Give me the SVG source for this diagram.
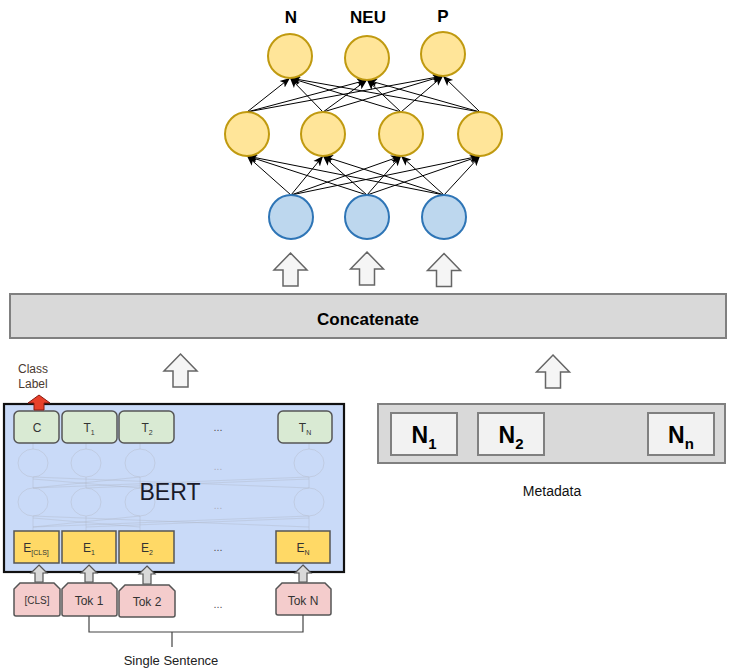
<svg xmlns="http://www.w3.org/2000/svg" width="729" height="672" viewBox="0 0 729 672">
<defs>
<marker id="ah" markerUnits="userSpaceOnUse" markerWidth="10" markerHeight="10" refX="10" refY="5" orient="auto" viewBox="0 0 10 10">
<path d="M0,0.8 L10,5 L0,9.2 L2.5,5 Z" fill="#000"/>
</marker>
</defs>
<style>
.out{fill:#ffe599;stroke:#c09a10;stroke-width:2}
.inp{fill:#bdd7ee;stroke:#2e75b6;stroke-width:2}
.edge{stroke:#000;stroke-width:1;fill:none;marker-end:url(#ah)}
.lbl{font-family:"Liberation Sans",Arial,sans-serif;font-weight:bold;font-size:17px;fill:#000;text-anchor:middle}
.barrow{fill:#f5f5f5;stroke:#666;stroke-width:1.5}
.sarrow{fill:#d9d9d9;stroke:#555;stroke-width:1.2}
.gbox{fill:#d9d9d9;stroke:#808080;stroke-width:2}
.nbox{fill:#f2f2f2;stroke:#808080;stroke-width:2}
.nt{font-family:"Liberation Sans",Arial,sans-serif;font-weight:bold;font-size:23px;fill:#000;text-anchor:middle}
.t{font-family:"Liberation Sans",Arial,sans-serif;fill:#333;text-anchor:middle}
.tbox{fill:#d9ead3;stroke:#555;stroke-width:1.5}
.ebox{fill:#ffd966;stroke:#555;stroke-width:1.5}
.tok{fill:#f4cccc;stroke:#555;stroke-width:1.5}
.ghost{fill:none;stroke:#b8c0cf;stroke-width:1;opacity:0.55}
.gl{stroke:#b0b8c6;stroke-width:0.8;opacity:0.5}
</style>

<g id="labels">
<text class="lbl" x="291" y="23">N</text>
<text class="lbl" x="368" y="23">NEU</text>
<text class="lbl" x="443" y="22">P</text>
</g>

<g id="connectors">
<line class="edge" x1="291" y1="195" x2="247" y2="156"/>
<line class="edge" x1="291" y1="195" x2="323" y2="156"/>
<line class="edge" x1="291" y1="195" x2="401" y2="156"/>
<line class="edge" x1="291" y1="195" x2="480" y2="156"/>
<line class="edge" x1="367" y1="195" x2="247" y2="156"/>
<line class="edge" x1="367" y1="195" x2="323" y2="156"/>
<line class="edge" x1="367" y1="195" x2="401" y2="156"/>
<line class="edge" x1="367" y1="195" x2="480" y2="156"/>
<line class="edge" x1="444" y1="195" x2="247" y2="156"/>
<line class="edge" x1="444" y1="195" x2="323" y2="156"/>
<line class="edge" x1="444" y1="195" x2="401" y2="156"/>
<line class="edge" x1="444" y1="195" x2="480" y2="156"/>
<line class="edge" x1="247" y1="112" x2="290" y2="78"/>
<line class="edge" x1="247" y1="112" x2="367" y2="80"/>
<line class="edge" x1="247" y1="112" x2="443" y2="76"/>
<line class="edge" x1="323" y1="112" x2="290" y2="78"/>
<line class="edge" x1="323" y1="112" x2="367" y2="80"/>
<line class="edge" x1="323" y1="112" x2="443" y2="76"/>
<line class="edge" x1="401" y1="112" x2="290" y2="78"/>
<line class="edge" x1="401" y1="112" x2="367" y2="80"/>
<line class="edge" x1="401" y1="112" x2="443" y2="76"/>
<line class="edge" x1="480" y1="112" x2="290" y2="78"/>
<line class="edge" x1="480" y1="112" x2="367" y2="80"/>
<line class="edge" x1="480" y1="112" x2="443" y2="76"/>
</g>

<g id="out-N"><circle class="out" cx="290" cy="56" r="22"/></g>
<g id="out-NEU"><circle class="out" cx="367" cy="58" r="22"/></g>
<g id="out-P"><circle class="out" cx="443" cy="54" r="22"/></g>

<g id="hid-1"><circle class="out" cx="247" cy="134" r="22"/></g>
<g id="hid-2"><circle class="out" cx="323" cy="134" r="22"/></g>
<g id="hid-3"><circle class="out" cx="401" cy="134" r="22"/></g>
<g id="hid-4"><circle class="out" cx="480" cy="134" r="22"/></g>

<g id="in-1"><circle class="inp" cx="291" cy="217" r="22"/></g>
<g id="in-2"><circle class="inp" cx="367" cy="217" r="22"/></g>
<g id="in-3"><circle class="inp" cx="444" cy="217" r="22"/></g>

<g id="block-arrows">
<path class="barrow" d="M290.5,253 L307,270 L298,270 L298,286 L283,286 L283,270 L274,270 Z"/>
<path class="barrow" d="M367,252 L383.5,269 L374.5,269 L374.5,285 L359.5,285 L359.5,269 L350.5,269 Z"/>
<path class="barrow" d="M444,253.5 L460.5,270.5 L451.5,270.5 L451.5,286.5 L436.5,286.5 L436.5,270.5 L427.5,270.5 Z"/>
<path class="barrow" d="M180.5,354 L197,371 L188,371 L188,387 L173,387 L173,371 L164,371 Z"/>
<path class="barrow" d="M553,355 L569.5,372 L560.5,372 L560.5,388 L545.5,388 L545.5,372 L536.5,372 Z"/>
</g>

<g id="concatenate">
<rect class="gbox" x="10" y="294" width="716" height="44"/>
<text class="lbl" x="368" y="325">Concatenate</text>
</g>

<g id="metadata">
<rect class="gbox" x="378" y="404" width="347" height="59"/>
<rect class="nbox" x="391" y="413" width="66" height="42"/>
<rect class="nbox" x="478" y="413" width="66" height="42"/>
<rect class="nbox" x="648" y="413" width="66" height="42"/>
<text class="nt" x="424" y="443">N<tspan font-size="15" dy="6">1</tspan></text>
<text class="nt" x="511" y="443">N<tspan font-size="15" dy="6">2</tspan></text>
<text class="nt" x="681" y="443">N<tspan font-size="15" dy="6">n</tspan></text>
<text class="t" x="552" y="496" font-size="14" style="fill:#111">Metadata</text>
</g>

<g id="bert">
<rect x="4" y="404" width="340" height="168" fill="#c9daf8" stroke="#111" stroke-width="2.2"/>
<g>
<line class="gl" x1="33" y1="443" x2="33" y2="449"/>
<line class="gl" x1="86" y1="443" x2="86" y2="449"/>
<line class="gl" x1="140" y1="443" x2="140" y2="449"/>
<line class="gl" x1="309" y1="443" x2="309" y2="449"/>
<line class="gl" x1="33" y1="477" x2="33" y2="488"/>
<line class="gl" x1="86" y1="477" x2="86" y2="488"/>
<line class="gl" x1="140" y1="477" x2="140" y2="488"/>
<line class="gl" x1="309" y1="477" x2="309" y2="488"/>
<line class="gl" x1="33" y1="516" x2="33" y2="531"/>
<line class="gl" x1="86" y1="516" x2="86" y2="531"/>
<line class="gl" x1="140" y1="516" x2="140" y2="531"/>
<line class="gl" x1="309" y1="516" x2="309" y2="531"/>
<line class="gl" x1="33" y1="488" x2="309" y2="477"/>
<line class="gl" x1="309" y1="488" x2="33" y2="477"/>
<line class="gl" x1="86" y1="488" x2="309" y2="479"/>
<line class="gl" x1="33" y1="488" x2="140" y2="477"/>
<line class="gl" x1="140" y1="488" x2="33" y2="479"/>
<line class="gl" x1="33" y1="527" x2="309" y2="516"/>
<line class="gl" x1="309" y1="527" x2="33" y2="516"/>
<line class="gl" x1="86" y1="527" x2="309" y2="518"/>
<line class="gl" x1="33" y1="527" x2="140" y2="516"/>
<line class="gl" x1="140" y1="527" x2="33" y2="518"/>
<ellipse class="ghost" cx="33" cy="463" rx="15" ry="14"/>
<ellipse class="ghost" cx="86" cy="463" rx="15" ry="14"/>
<ellipse class="ghost" cx="140" cy="463" rx="15" ry="14"/>
<ellipse class="ghost" cx="309" cy="463" rx="15" ry="14"/>
<ellipse class="ghost" cx="33" cy="502" rx="15" ry="14"/>
<ellipse class="ghost" cx="86" cy="502" rx="15" ry="14"/>
<ellipse class="ghost" cx="140" cy="502" rx="15" ry="14"/>
<ellipse class="ghost" cx="309" cy="502" rx="15" ry="14"/>
<text class="t" x="218" y="470" font-size="10" style="fill:#aab">...</text>
<text class="t" x="218" y="509" font-size="10" style="fill:#aab">...</text>
</g>
<text class="t" x="170" y="500" font-size="23" style="fill:#1a1a2a">BERT</text>
<rect class="tbox" x="14" y="411" width="45" height="32" rx="5"/>
<rect class="tbox" x="62" y="411" width="55" height="32" rx="5"/>
<rect class="tbox" x="119" y="411" width="55" height="32" rx="5"/>
<rect class="tbox" x="278" y="411" width="54" height="32" rx="5"/>
<text class="t" x="37" y="432" font-size="12">C</text>
<text class="t" x="89" y="432" font-size="12">T<tspan font-size="7" dy="3">1</tspan></text>
<text class="t" x="147" y="432" font-size="12">T<tspan font-size="7" dy="3">2</tspan></text>
<text class="t" x="305" y="432" font-size="12">T<tspan font-size="7" dy="3">N</tspan></text>
<text class="t" x="218" y="431" font-size="11" style="fill:#555">...</text>
<rect class="ebox" x="14" y="531" width="45" height="32"/>
<rect class="ebox" x="62" y="531" width="54" height="32"/>
<rect class="ebox" x="119" y="531" width="55" height="32"/>
<rect class="ebox" x="276" y="531" width="54" height="32"/>
<text class="t" x="36" y="552" font-size="12">E<tspan font-size="7" dy="3">[CLS]</tspan></text>
<text class="t" x="89" y="552" font-size="12">E<tspan font-size="7" dy="3">1</tspan></text>
<text class="t" x="147" y="552" font-size="12">E<tspan font-size="7" dy="3">2</tspan></text>
<text class="t" x="303" y="552" font-size="12">E<tspan font-size="7" dy="3">N</tspan></text>
<text class="t" x="218" y="551" font-size="11" style="fill:#555">...</text>
<text class="t" x="33" y="373" font-size="12" style="fill:#4a3a30">Class</text>
<text class="t" x="33" y="388" font-size="12" style="fill:#4a3a30">Label</text>
<path d="M39,395 L50,403 L44,403 L44,410 L34,410 L34,403 L28,403 Z" fill="#e8402a" stroke="#8a1a10" stroke-width="1"/>
</g>

<g id="tokens">
<path class="sarrow" d="M39,565 L47,573 L43,573 L43,582 L35,582 L35,573 L31,573 Z"/>
<path class="sarrow" d="M89,565 L97,573 L93,573 L93,582 L85,582 L85,573 L81,573 Z"/>
<path class="sarrow" d="M147,566 L155,574 L151,574 L151,584 L143,584 L143,574 L139,574 Z"/>
<path class="sarrow" d="M303,565 L311,573 L307,573 L307,582 L299,582 L299,573 L295,573 Z"/>
<path class="tok" d="M20,583 L54,583 L60,589 L60,614 Q60,616 58,616 L16,616 Q14,616 14,614 L14,589 Z"/>
<path class="tok" d="M68,583 L111,583 L117,589 L117,614 Q117,616 115,616 L64,616 Q62,616 62,614 L62,589 Z"/>
<path class="tok" d="M125,585 L169,585 L175,591 L175,615 Q175,617 173,617 L121,617 Q119,617 119,615 L119,591 Z"/>
<path class="tok" d="M282,583 L325,583 L331,589 L331,613 Q331,615 329,615 L278,615 Q276,615 276,613 L276,589 Z"/>
<text class="t" x="37" y="604" font-size="10">[CLS]</text>
<text class="t" x="89" y="605" font-size="12">Tok 1</text>
<text class="t" x="147" y="606" font-size="12">Tok 2</text>
<text class="t" x="303" y="605" font-size="12">Tok N</text>
<text class="t" x="218" y="608" font-size="11" style="fill:#555">...</text>
<path d="M89,616 L89,632 L303,632 L303,615 M172,632 L172,647" fill="none" stroke="#444" stroke-width="1.2"/>
<text class="t" x="171" y="665" font-size="13" style="fill:#222">Single Sentence</text>
</g>
</svg>
